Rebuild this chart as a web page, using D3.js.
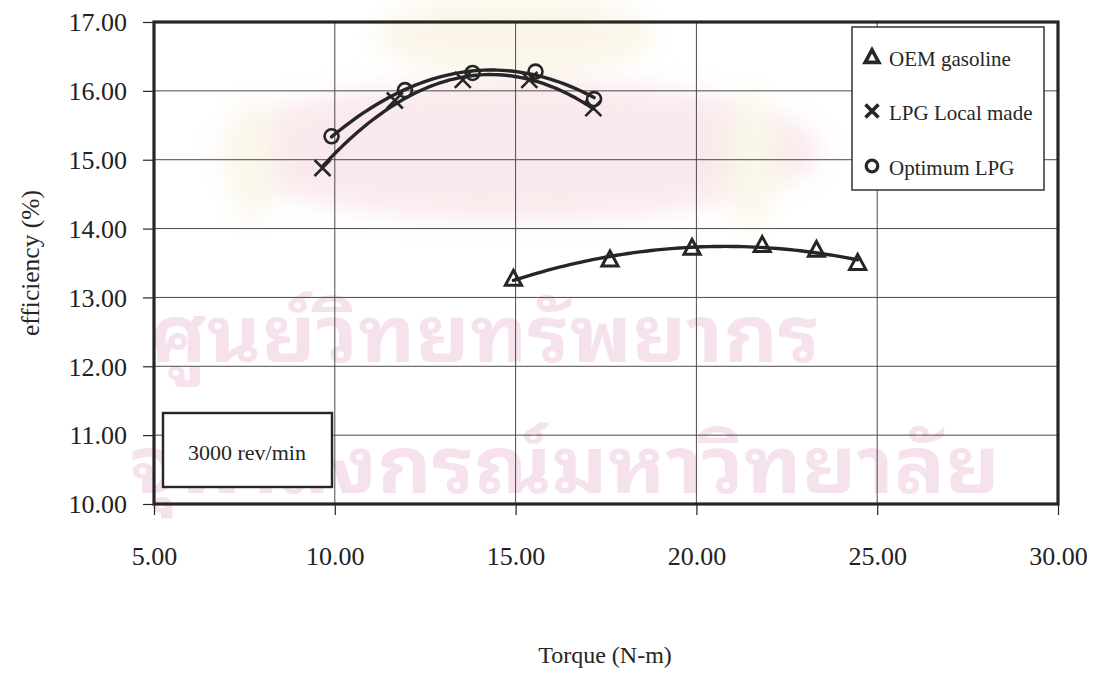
<!DOCTYPE html>
<html>
<head>
<meta charset="utf-8">
<script src="https://cdn.jsdelivr.net/npm/d3@7/dist/d3.min.js"></script>
<style>
  html, body { margin: 0; padding: 0; background: #fff; }
  svg { display: block; }
  .tick text { font-family: "Liberation Serif", "Times New Roman", serif; font-size: 26px; fill: #222; }
</style>
</head>
<body>
<svg id="chart" width="1097" height="677"></svg>
<script>
// ---- data ----
const xTicks = [5, 10, 15, 20, 25, 30];
const yTicks = [10, 11, 12, 13, 14, 15, 16, 17];

const oemTorque = [14.94, 17.61, 19.88, 21.82, 23.32, 24.46];
const oemEff    = [13.27, 13.55, 13.72, 13.76, 13.69, 13.50];

const lpgTorque = [9.66, 11.66, 13.54, 15.38, 17.15];
const lpgEff    = [14.88, 15.86, 16.16, 16.16, 15.75];

const optTorque = [9.91, 11.94, 13.81, 15.55, 17.17];
const optEff    = [15.34, 16.01, 16.26, 16.28, 15.88];

const seriesNames = ["OEM gasoline", "LPG Local made", "Optimum LPG"];
const rpmLabel = "3000 rev/min";
const watermarkLines = ["ศูนย์วิทยทรัพยากร", "จุฬาลงกรณ์มหาวิทยาลัย"];

// ---- layout ----
const svg = d3.select("#chart");
const plot = { left: 154, right: 1058, top: 22, bottom: 504 };
const x = d3.scaleLinear().domain([5, 30]).range([plot.left, plot.right]);
const y = d3.scaleLinear().domain([10, 17]).range([plot.bottom, plot.top]);
const ink = "#262626";
const serif = "'Liberation Serif', 'Times New Roman', serif";

// faint emblem in the page background
const defs = svg.append("defs");
defs.append("filter").attr("id", "soft").attr("x", "-20%").attr("y", "-20%").attr("width", "140%").attr("height", "140%")
  .append("feGaussianBlur").attr("stdDeviation", 12);
const emblem = svg.append("g").attr("filter", "url(#soft)").attr("opacity", 0.5);
emblem.append("ellipse").attr("cx", 520).attr("cy", 150).attr("rx", 300).attr("ry", 70).attr("fill", "#f7d4da");
emblem.append("ellipse").attr("cx", 515).attr("cy", 35).attr("rx", 140).attr("ry", 38).attr("fill", "#f6ecd0");
emblem.append("ellipse").attr("cx", 252).attr("cy", 160).attr("rx", 24).attr("ry", 62).attr("fill", "#f5efd6");
emblem.append("ellipse").attr("cx", 752).attr("cy", 160).attr("rx", 24).attr("ry", 70).attr("fill", "#f5efd6");

// stamped institution name, under the chart ink
const wm = svg.append("g").attr("fill", "#f1cfe2").attr("opacity", 0.6)
  .attr("font-family", "'Noto Sans Thai Looped', 'Noto Serif Thai', 'Noto Sans Thai', 'Noto Sans', sans-serif")
  .attr("font-weight", 700);
wm.append("text").attr("x", 485).attr("y", 362).attr("text-anchor", "middle")
  .attr("font-size", 78).attr("textLength", 670).attr("lengthAdjust", "spacingAndGlyphs").text(watermarkLines[0]);
wm.append("text").attr("x", 565).attr("y", 493).attr("text-anchor", "middle")
  .attr("font-size", 78).attr("textLength", 870).attr("lengthAdjust", "spacingAndGlyphs").text(watermarkLines[1]);

// ---- grid ----
const grid = svg.append("g").attr("stroke", "#4a4a4a").attr("stroke-width", 1);
grid.selectAll("line.v").data(xTicks.slice(1, -1)).join("line")
  .attr("x1", d => x(d)).attr("x2", d => x(d)).attr("y1", plot.top).attr("y2", plot.bottom);
grid.selectAll("line.h").data(yTicks.slice(1, -1)).join("line")
  .attr("x1", plot.left).attr("x2", plot.right).attr("y1", d => y(d)).attr("y2", d => y(d));

// ---- axes ----
const fmt = d3.format(".2f");
const yAxis = svg.append("g").attr("transform", `translate(${plot.left},0)`)
  .call(d3.axisLeft(y).tickValues(yTicks).tickFormat(fmt).tickSize(11).tickPadding(16));
yAxis.select(".domain").remove();
yAxis.selectAll(".tick line").attr("stroke", ink).attr("stroke-width", 1.2);
yAxis.selectAll(".tick text").attr("dy", "0.34em");

const xAxis = svg.append("g").attr("transform", `translate(0,${plot.bottom})`)
  .call(d3.axisBottom(x).tickValues(xTicks).tickFormat(fmt).tickSize(11).tickPadding(32));
xAxis.select(".domain").remove();
xAxis.selectAll(".tick line").attr("stroke", ink).attr("stroke-width", 1.2);

// plot frame
svg.append("rect").attr("x", plot.left).attr("y", plot.top)
  .attr("width", plot.right - plot.left).attr("height", plot.bottom - plot.top)
  .attr("fill", "none").attr("stroke", ink).attr("stroke-width", 3.2);

// axis titles
svg.append("text").attr("transform", "translate(30,263) rotate(-90)")
  .attr("text-anchor", "middle").attr("dominant-baseline", "central")
  .attr("font-family", serif).attr("font-size", 25.5).attr("fill", ink).text("efficiency (%)");
svg.append("text").attr("x", 605).attr("y", 663).attr("text-anchor", "middle")
  .attr("font-family", serif).attr("font-size", 24).attr("fill", ink).text("Torque (N-m)");

// ---- trendlines: 2nd-order least-squares fit of each series ----
function quadFit(xs, ys) {
  const n = xs.length;
  let s = [0, 0, 0, 0, 0], t = [0, 0, 0];
  for (let i = 0; i < n; i++) {
    let p = 1;
    for (let k = 0; k < 5; k++) { s[k] += p; if (k < 3) t[k] += p * ys[i]; p *= xs[i]; }
  }
  const A = [[s[0], s[1], s[2], t[0]], [s[1], s[2], s[3], t[1]], [s[2], s[3], s[4], t[2]]];
  for (let c = 0; c < 3; c++) {
    for (let r = c + 1; r < 3; r++) {
      const f = A[r][c] / A[c][c];
      for (let k = c; k < 4; k++) A[r][k] -= f * A[c][k];
    }
  }
  const coef = [0, 0, 0];
  for (let r = 2; r >= 0; r--) {
    let v = A[r][3];
    for (let k = r + 1; k < 3; k++) v -= A[r][k] * coef[k];
    coef[r] = v / A[r][r];
  }
  return v => coef[0] + coef[1] * v + coef[2] * v * v;
}

const line = d3.line().x(d => x(d[0])).y(d => y(d[1])).curve(d3.curveLinear);
function trend(xs, ys) {
  const f = quadFit(xs, ys);
  const [lo, hi] = d3.extent(xs);
  const pts = d3.range(0, 61).map(i => { const v = lo + (hi - lo) * i / 60; return [v, f(v)]; });
  svg.append("path").attr("d", line(pts)).attr("fill", "none")
    .attr("stroke", ink).attr("stroke-width", 3.4).attr("stroke-linecap", "round");
}
trend(oemTorque, oemEff);
trend(lpgTorque, lpgEff);
trend(optTorque, optEff);

// ---- markers ----
const tri = (cx, cy, s) => `M${cx},${cy - s}L${cx + s * 0.95},${cy + s * 0.75}L${cx - s * 0.95},${cy + s * 0.75}Z`;
const cross = (cx, cy, s) => `M${cx - s},${cy - s}L${cx + s},${cy + s}M${cx + s},${cy - s}L${cx - s},${cy + s}`;

svg.append("g").selectAll("path").data(d3.zip(oemTorque, oemEff)).join("path")
  .attr("d", d => tri(x(d[0]), y(d[1]), 8.5)).attr("fill", "none")
  .attr("stroke", ink).attr("stroke-width", 3).attr("stroke-linejoin", "miter");
svg.append("g").selectAll("path").data(d3.zip(lpgTorque, lpgEff)).join("path")
  .attr("d", d => cross(x(d[0]), y(d[1]), 8)).attr("fill", "none")
  .attr("stroke", ink).attr("stroke-width", 2.6);
svg.append("g").selectAll("circle").data(d3.zip(optTorque, optEff)).join("circle")
  .attr("cx", d => x(d[0])).attr("cy", d => y(d[1])).attr("r", 7)
  .attr("fill", "none").attr("stroke", ink).attr("stroke-width", 2.6);

// ---- legend ----
const lg = svg.append("g");
lg.append("rect").attr("x", 852).attr("y", 27).attr("width", 192).attr("height", 163)
  .attr("fill", "#fff").attr("stroke", "#333").attr("stroke-width", 1.5);
const legendRows = [
  { name: seriesNames[0], cy: 57, sym: (cx, cy) => tri(cx, cy, 7.2) },
  { name: seriesNames[1], cy: 111, sym: (cx, cy) => cross(cx, cy, 6.5) },
  { name: seriesNames[2], cy: 166, sym: null }
];
legendRows.forEach(r => {
  if (r.sym) {
    lg.append("path").attr("d", r.sym(872, r.cy)).attr("fill", "none")
      .attr("stroke", ink).attr("stroke-width", 3.6);
  } else {
    lg.append("circle").attr("cx", 872).attr("cy", r.cy).attr("r", 5.8)
      .attr("fill", "none").attr("stroke", ink).attr("stroke-width", 3.2);
  }
  lg.append("text").attr("x", 889).attr("y", r.cy + 9).attr("font-family", serif)
    .attr("font-size", 21).attr("fill", ink).text(r.name);
});

// ---- speed note ----
svg.append("rect").attr("x", 163).attr("y", 413).attr("width", 169).attr("height", 74)
  .attr("fill", "#fff").attr("stroke", ink).attr("stroke-width", 2.4);
svg.append("text").attr("x", 247).attr("y", 460).attr("text-anchor", "middle")
  .attr("font-family", serif).attr("font-size", 22).attr("fill", ink).text(rpmLabel);
</script>
</body>
</html>
